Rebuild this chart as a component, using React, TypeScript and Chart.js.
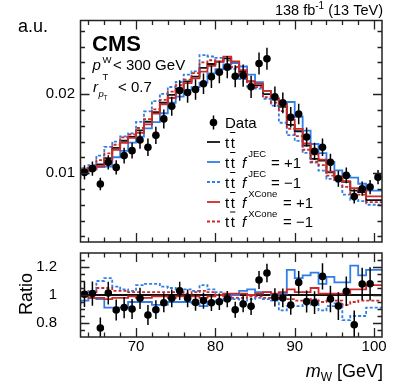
import React, { useEffect, useRef } from "react";
import { Chart, registerables } from "chart.js";
Chart.register(...registerables);

// ---------------- data ----------------
const binEdges = [63, 64, 65, 66, 67, 68, 69, 70, 71, 72, 73, 74, 75, 76, 77, 78, 79, 80, 81, 82, 83, 84, 85, 86, 87, 88, 89, 90, 91, 92, 93, 94, 95, 96, 97, 98, 99, 100, 101];

const dataValues = [0.0101, 0.01057, 0.00863, 0.01137, 0.01073, 0.01222, 0.01285, 0.0142, 0.01327, 0.01478, 0.01686, 0.01846, 0.02044, 0.0202, 0.02057, 0.0213, 0.02218, 0.02276, 0.0234, 0.02225, 0.02234, 0.02091, 0.02386, 0.02446, 0.01965, 0.01889, 0.01706, 0.01749, 0.01458, 0.01276, 0.01327, 0.01137, 0.0093, 0.00972, 0.00706, 0.00804, 0.00825, 0.0095];

const dataErrors = [0.0009, 0.0009, 0.0008, 0.0009, 0.0009, 0.001, 0.001, 0.0011, 0.0011, 0.0011, 0.0012, 0.0012, 0.0013, 0.0013, 0.0013, 0.0013, 0.0014, 0.0014, 0.0014, 0.0014, 0.0014, 0.0014, 0.0014, 0.0014, 0.0013, 0.0013, 0.0013, 0.0013, 0.0012, 0.0011, 0.0011, 0.0011, 0.001, 0.001, 0.0009, 0.0009, 0.0009, 0.0009];

const nominal = [0.01, 0.0104, 0.0107, 0.0111, 0.0119, 0.0132, 0.0141, 0.0146, 0.0154, 0.0165, 0.0177, 0.0189, 0.0199, 0.0207, 0.0216, 0.0222, 0.0233, 0.0238, 0.0241, 0.0245, 0.0239, 0.0228, 0.0216, 0.0211, 0.02, 0.0193, 0.0184, 0.0161, 0.0153, 0.0135, 0.0118, 0.0116, 0.0101, 0.0095, 0.0089, 0.0078, 0.0076, 0.0066];

const ratioData: (number | null)[] = [1.005, 1.01, 0.764, 1.014, 0.893, 0.91, 0.9, 0.976, 0.857, 0.895, 0.945, 0.976, 1.03, 0.976, 0.947, 0.96, 0.945, 0.952, 0.971, 0.895, 0.936, 0.919, 1.107, 1.157, 0.983, 0.979, 0.929, 1.09, 0.954, 0.945, 1.133, 0.971, 0.921, 1.026, 0.788, 1.079, 1.08, null];

const ratioJecUp = [0.93, 0.96, 0.98, 0.97, 0.91, 0.91, 0.91, 0.95, 0.95, 0.95, 0.93, 0.93, 0.95, 0.95, 0.95, 0.94, 0.92, 0.95, 0.96, 0.97, 1.0, 1.03, 1.04, 1.02, 1.02, 1.0, 1.01, 1.18, 1.12, 1.14, 1.16, 1.08, 1.13, 1.09, 1.09, 1.21, 1.14, 1.18];
const ratioJecDown = [1.0, 1.02, 1.03, 1.1, 1.12, 1.06, 1.04, 1.03, 1.07, 1.08, 1.08, 1.06, 1.05, 1.04, 1.04, 1.03, 1.07, 1.04, 1.02, 0.99, 0.97, 0.96, 0.97, 0.98, 0.97, 0.96, 0.89, 0.92, 0.92, 0.93, 0.96, 0.89, 0.92, 0.94, 0.82, 0.85, 0.85, 0.91];
const ratioXconeUp = [1.0, 0.99, 0.98, 0.98, 0.97, 0.98, 0.98, 0.99, 0.98, 0.98, 0.99, 0.99, 0.98, 0.99, 0.99, 0.99, 0.98, 0.99, 1.0, 1.01, 1.01, 1.01, 1.0, 1.01, 1.02, 1.01, 1.02, 1.04, 1.02, 1.02, 1.05, 1.01, 1.01, 1.01, 1.01, 1.04, 1.04, 1.07];
const ratioXconeDown = [1.02, 1.02, 1.02, 1.05, 1.05, 1.03, 1.03, 1.02, 1.02, 1.02, 1.02, 1.02, 1.02, 1.02, 1.01, 1.02, 1.03, 1.02, 1.0, 0.99, 0.98, 0.98, 0.99, 0.99, 0.98, 0.98, 0.97, 0.97, 0.96, 0.96, 0.97, 0.95, 0.96, 0.96, 0.93, 0.95, 0.96, 0.96];

const xTickValues = [70, 80, 90, 100];
const xTickLabels = ["70", "80", "90", "100"];
const topYTickValues = [0.01, 0.02];
const topYTickLabels = ["0.01", "0.02"];
const ratioYTickValues = [0.8, 1, 1.2];
const ratioYTickLabels = ["0.8", "1", "1.2"];

// ---------------- styles ----------------
const W = 407;
const H = 383;
const BLUE = "#2f7fe8";
const RED = "#cc2a2a";
const BLACK = "#111111";
const FONT = '"Liberation Sans", Arial, Helvetica, sans-serif';
const TOP_AREA = { left: 80.5, right: 382, top: 20.5, bottom: 242 };
const BOT_AREA = { left: 80.5, right: 382, top: 253, bottom: 337 };

const centers = binEdges.slice(0, -1).map((e, i) => (e + binEdges[i + 1]) / 2);
const stepPoints = (vals: number[]) => [
  ...vals.map((v, i) => ({ x: binEdges[i], y: v })),
  { x: binEdges[binEdges.length - 1], y: vals[vals.length - 1] },
];

function font(size: number, style = "") {
  return `${style} ${size}px ${FONT}`.trim();
}

function txt(ctx: CanvasRenderingContext2D, s: string, x: number, y: number, size: number, style = "", align: CanvasTextAlign = "left", base: CanvasTextBaseline = "alphabetic") {
  ctx.font = font(size, style);
  ctx.textAlign = align;
  ctx.textBaseline = base;
  ctx.fillStyle = "#000";
  ctx.fillText(s, x, y);
  return ctx.measureText(s).width;
}

function ttbar(ctx: CanvasRenderingContext2D, x: number, y: number, size: number) {
  const w1 = txt(ctx, "t", x, y, size);
  const x2 = x + w1 + 1.5;
  const w2 = txt(ctx, "t", x2, y, size);
  ctx.strokeStyle = "#000";
  ctx.lineWidth = 1;
  ctx.beginPath();
  ctx.moveTo(x2 - 0.5, y - size);
  ctx.lineTo(x2 + w2 + 0.5, y - size);
  ctx.stroke();
  return x2 + w2 - x;
}

function frameAndTicks(chart: any, xMinor: number[], yMajor: number[], yMinor: number[]) {
  const ctx: CanvasRenderingContext2D = chart.ctx;
  const a = chart.chartArea;
  const xs = chart.scales.x;
  const ys = chart.scales.y;
  ctx.save();
  ctx.strokeStyle = "#222";
  ctx.lineWidth = 1.3;
  ctx.beginPath();
  const tick = (v: number, len: number) => {
    const px = Math.round(xs.getPixelForValue(v)) + 0.5;
    ctx.moveTo(px, a.bottom);
    ctx.lineTo(px, a.bottom - len);
    ctx.moveTo(px, a.top);
    ctx.lineTo(px, a.top + len);
  };
  xTickValues.forEach((v) => tick(v, 9));
  xMinor.forEach((v) => tick(v, 4.5));
  const ytick = (v: number, len: number) => {
    const py = Math.round(ys.getPixelForValue(v)) + 0.5;
    ctx.moveTo(a.left, py);
    ctx.lineTo(a.left + len, py);
    ctx.moveTo(a.right, py);
    ctx.lineTo(a.right - len, py);
  };
  yMajor.forEach((v) => ytick(v, 9));
  yMinor.forEach((v) => ytick(v, 4.5));
  ctx.stroke();
  ctx.lineWidth = 1.5;
  ctx.strokeRect(a.left, a.top, a.right - a.left, a.bottom - a.top);
  ctx.restore();
}

const xMinorTicks = [64, 66, 68, 72, 74, 76, 78, 82, 84, 86, 88, 92, 94, 96, 98];
const topYMinor = [0.002, 0.004, 0.006, 0.008, 0.012, 0.014, 0.016, 0.018, 0.022, 0.024, 0.026, 0.028];
const ratioYMinor = [0.75, 0.85, 0.9, 0.95, 1.05, 1.1, 1.15, 1.25];

function errorBarPlugin(errs: (number | null)[], vals: (number | null)[]) {
  return {
    id: "errbars",
    beforeDatasetDraw(chart: any, args: any) {
      if (args.index !== 0) return;
      const ctx: CanvasRenderingContext2D = chart.ctx;
      const xs = chart.scales.x;
      const ys = chart.scales.y;
      const a = chart.chartArea;
      ctx.save();
      ctx.beginPath();
      ctx.rect(a.left, a.top, a.right - a.left, a.bottom - a.top);
      ctx.clip();
      ctx.strokeStyle = "#000";
      ctx.lineWidth = 1.5;
      ctx.beginPath();
      vals.forEach((v, i) => {
        const e = errs[i];
        if (v == null || e == null) return;
        const px = xs.getPixelForValue(centers[i]);
        ctx.moveTo(px, ys.getPixelForValue(v - e));
        ctx.lineTo(px, ys.getPixelForValue(v + e));
      });
      ctx.stroke();
      ctx.restore();
    },
  };
}

const lineDs = (label: string, vals: number[], color: string, dashed: boolean) => ({
  type: "line" as const,
  label,
  data: stepPoints(vals),
  stepped: "after" as const,
  borderColor: color,
  borderWidth: 1.8,
  borderDash: dashed ? [3, 2] : [],
  pointRadius: 0,
  fill: false,
});

function topConfig(): any {
  const up = (r: number[]) => nominal.map((v, i) => v * r[i]);
  const topPlugin = {
    id: "topdeco",
    afterDraw(chart: any) {
      const ctx: CanvasRenderingContext2D = chart.ctx;
      frameAndTicks(chart, xMinorTicks, topYTickValues, topYMinor);
      const ys = chart.scales.y;
      ctx.save();
      topYTickValues.forEach((v, i) => txt(ctx, topYTickLabels[i], 75, ys.getPixelForValue(v), 15, "", "right", "middle"));
      // axis title
      txt(ctx, "a.u.", 18, 32, 18);
      // lumi
      ctx.font = font(14.5);
      const w3 = ctx.measureText(" (13 TeV)").width;
      const w1 = ctx.measureText("138 fb").width;
      ctx.font = font(10);
      const w2 = ctx.measureText("-1").width;
      const x = 383 - w1 - w2 - w3;
      txt(ctx, "138 fb", x, 15, 14.5);
      txt(ctx, "-1", x + w1, 9, 10);
      txt(ctx, " (13 TeV)", x + w1 + w2, 15, 14.5);
      // CMS
      txt(ctx, "CMS", 92, 51, 22, "bold");
      txt(ctx, "p", 92.5, 70, 15, "italic");
      txt(ctx, "W", 102.5, 63, 9.5);
      txt(ctx, "T", 102.5, 80, 9.5);
      txt(ctx, "< 300 GeV", 113, 70, 15);
      txt(ctx, "r", 93, 92, 15, "italic");
      txt(ctx, "p", 98.5, 96.5, 9.5, "italic");
      txt(ctx, "T", 103.5, 100, 6.5);
      txt(ctx, "< 0.7", 118, 92, 15);
      // legend
      const rows = [122.5, 142, 162, 182, 202, 221.5];
      const lx0 = 207, lx1 = 220, tx = 225;
      ctx.fillStyle = "#000";
      ctx.beginPath();
      ctx.arc(213.5, rows[0], 3.8, 0, Math.PI * 2);
      ctx.fill();
      ctx.strokeStyle = "#000";
      ctx.lineWidth = 1.5;
      ctx.beginPath();
      ctx.moveTo(213.5, rows[0] - 7);
      ctx.lineTo(213.5, rows[0] + 7);
      ctx.stroke();
      txt(ctx, "Data", tx, rows[0] + 5.5, 15);
      const entries: [string, boolean, string | null, string, number][] = [
        [BLACK, false, null, "", 0],
        [BLUE, false, "JEC", "= +1", 271],
        [BLUE, true, "JEC", "= \u22121", 271],
        [RED, false, "XCone", "= +1", 283],
        [RED, true, "XCone", "= \u22121", 283],
      ];
      entries.forEach(([col, dash, sup, rest, rx], k) => {
        const y = rows[k + 1];
        ctx.strokeStyle = col;
        ctx.lineWidth = 1.8;
        ctx.setLineDash(dash ? [3, 2] : []);
        ctx.beginPath();
        ctx.moveTo(lx0, y);
        ctx.lineTo(lx1, y);
        ctx.stroke();
        ctx.setLineDash([]);
        ttbar(ctx, tx, y + 5.5, 15);
        if (sup) {
          const fw = txt(ctx, "f", 242, y + 5.5, 15, "italic");
          txt(ctx, sup, 242 + fw + 2, y - 5, 9.5);
          txt(ctx, rest, rx, y + 5.5, 15);
        }
      });
      ctx.restore();
    },
  };
  return {
    type: "line",
    data: {
      datasets: [
        {
          type: "scatter",
          label: "Data",
          data: centers.map((x, i) => ({ x, y: dataValues[i] })),
          pointRadius: 3.8,
          pointBackgroundColor: "#000",
          pointBorderWidth: 0,
          showLine: false,
        },
        lineDs("XCone -1", up(ratioXconeDown), RED, true),
        lineDs("XCone +1", up(ratioXconeUp), RED, false),
        lineDs("JEC -1", up(ratioJecDown), BLUE, true),
        lineDs("JEC +1", up(ratioJecUp), BLUE, false),
        lineDs("ttbar", nominal, BLACK, false),
      ],
    },
    options: {
      animation: false,
      responsive: false,
      devicePixelRatio: 1,
      layout: { padding: { left: TOP_AREA.left, right: W - TOP_AREA.right, top: TOP_AREA.top, bottom: H - TOP_AREA.bottom } },
      scales: {
        x: { type: "linear", min: 63, max: 101, display: false },
        y: { type: "linear", min: 0.0013, max: 0.0293, display: false },
      },
      plugins: { legend: { display: false }, tooltip: { enabled: false } },
    },
    plugins: [errorBarPlugin(dataErrors, dataValues), topPlugin],
  };
}

function botConfig(): any {
  const ratioErr = dataErrors.map((e, i) => e / nominal[i]);
  const ratioNominal = nominal.map((v) => v / v);
  const botPlugin = {
    id: "botdeco",
    afterDraw(chart: any) {
      const ctx: CanvasRenderingContext2D = chart.ctx;
      frameAndTicks(chart, xMinorTicks, ratioYTickValues, ratioYMinor);
      const xs = chart.scales.x;
      const ys = chart.scales.y;
      ctx.save();
      ratioYTickValues.forEach((v, i) => txt(ctx, ratioYTickLabels[i], 57, ys.getPixelForValue(v), 15, "", "right", "middle"));
      xTickValues.forEach((v, i) => txt(ctx, xTickLabels[i], xs.getPixelForValue(v), 347, 15, "", "center", "middle"));
      ctx.save();
      ctx.translate(32, 294);
      ctx.rotate(-Math.PI / 2);
      txt(ctx, "Ratio", 0, 0, 18, "", "center", "alphabetic");
      ctx.restore();
      // m_W [GeV]
      ctx.font = font(18);
      const wG = ctx.measureText(" [GeV]").width;
      ctx.font = font(12);
      const wW = ctx.measureText("W").width;
      ctx.font = font(18, "italic");
      const wM = ctx.measureText("m").width;
      const x0 = 383 - wG - wW - wM;
      txt(ctx, "m", x0, 377, 18, "italic");
      txt(ctx, "W", x0 + wM, 381, 12);
      txt(ctx, " [GeV]", x0 + wM + wW, 377, 18);
      ctx.restore();
    },
  };
  return {
    type: "line",
    data: {
      datasets: [
        {
          type: "scatter",
          label: "Data/MC",
          data: centers.map((x, i) => ({ x, y: ratioData[i] })),
          pointRadius: 3.8,
          pointBackgroundColor: "#000",
          pointBorderWidth: 0,
          showLine: false,
        },
        lineDs("XCone -1", ratioXconeDown, RED, true),
        lineDs("XCone +1", ratioXconeUp, RED, false),
        lineDs("JEC -1", ratioJecDown, BLUE, true),
        lineDs("JEC +1", ratioJecUp, BLUE, false),
        lineDs("ttbar", ratioNominal, BLACK, false),
      ],
    },
    options: {
      animation: false,
      responsive: false,
      devicePixelRatio: 1,
      layout: { padding: { left: BOT_AREA.left, right: W - BOT_AREA.right, top: BOT_AREA.top, bottom: H - BOT_AREA.bottom } },
      scales: {
        x: { type: "linear", min: 63, max: 101, display: false },
        y: { type: "linear", min: 0.7, max: 1.3, display: false },
      },
      plugins: { legend: { display: false }, tooltip: { enabled: false } },
    },
    plugins: [errorBarPlugin(ratioErr, ratioData), botPlugin],
  };
}

export default function App() {
  const topRef = useRef<HTMLCanvasElement>(null);
  const botRef = useRef<HTMLCanvasElement>(null);
  useEffect(() => {
    const c1 = new Chart(topRef.current as HTMLCanvasElement, topConfig());
    const c2 = new Chart(botRef.current as HTMLCanvasElement, botConfig());
    return () => {
      c1.destroy();
      c2.destroy();
    };
  }, []);
  return (
    <div style={{ position: "fixed", left: 0, top: 0, width: W, height: H, background: "#fff" }}>
      <canvas ref={topRef} width={W} height={H} style={{ position: "absolute", left: 0, top: 0 }} />
      <canvas ref={botRef} width={W} height={H} style={{ position: "absolute", left: 0, top: 0 }} />
    </div>
  );
}
